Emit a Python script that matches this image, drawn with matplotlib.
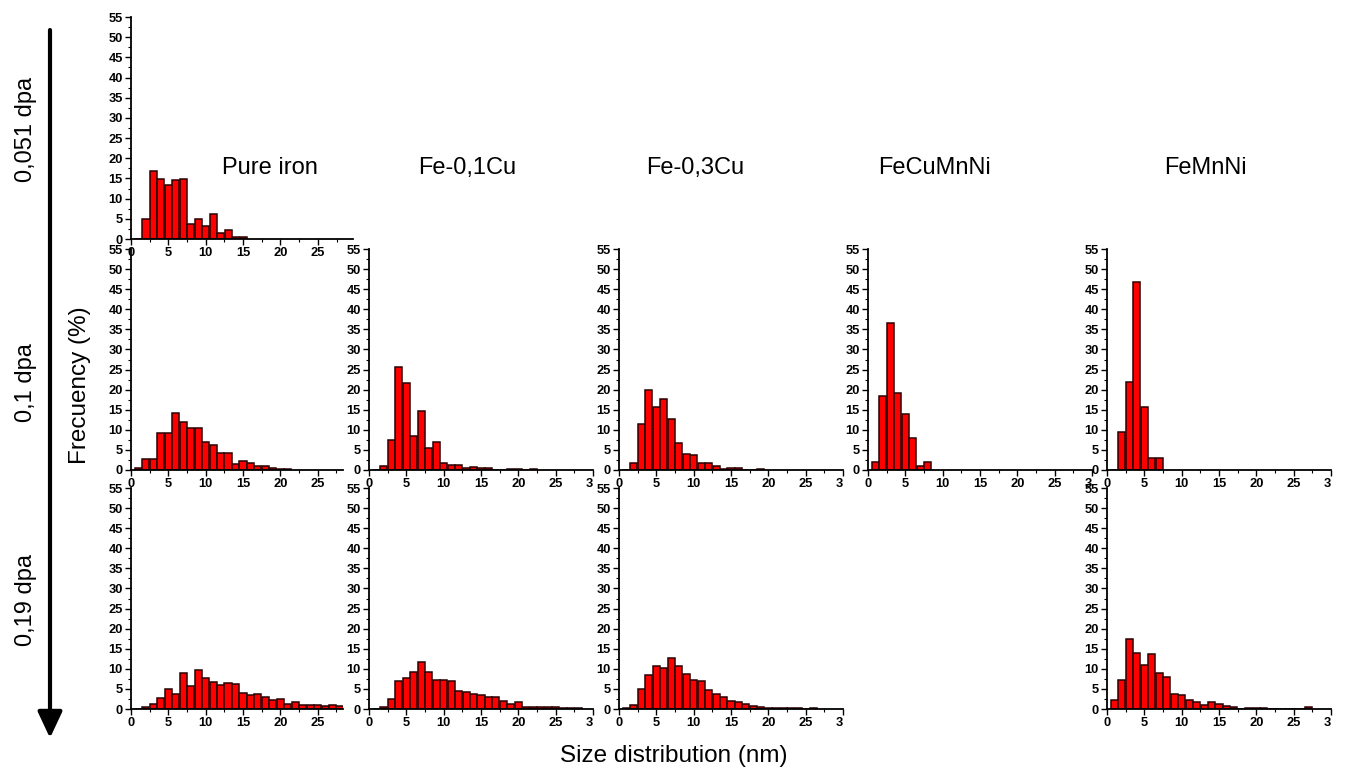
import matplotlib
matplotlib.use("Agg")
import matplotlib.pyplot as plt
import numpy as np

plt.rcParams['font.family'] = ['Liberation Sans', 'DejaVu Sans']

# ---- data (frequency % per 1 nm size bin, bins start at 1 nm) ----
pure_iron_0051 = [0, 5.0, 16.8, 14.9, 13.3, 14.5, 14.9, 3.7, 5.0, 3.3, 6.2, 1.4, 2.3, 0.6, 0.5]
pure_iron_01 = [0.4, 2.7, 2.8, 9.2, 9.2, 14.3, 11.9, 10.4, 10.4, 7.0, 6.1, 4.2, 4.2, 1.5, 2.3,
                1.7, 1.1, 1.0, 0.5, 0.3, 0.2]
fe01cu_01 = [0, 1.1, 7.4, 25.7, 21.7, 8.5, 14.6, 5.4, 6.9, 1.8, 1.2, 1.2, 0.4, 0.8, 0.4, 0.4,
             0, 0, 0.2, 0.2, 0, 0.2]
fe03cu_01 = [0, 1.7, 11.4, 19.8, 15.8, 17.6, 12.6, 6.8, 4.1, 3.8, 1.7, 1.7, 0.9, 0.25, 0.4, 0.4,
             0, 0, 0.25]
fecumnni_01 = [1.9, 18.4, 36.7, 19.2, 13.9, 7.9, 0.9, 1.9]
femnni_01 = [0, 9.4, 21.8, 46.9, 15.7, 3.1, 3.1]
pure_iron_019 = [0, 0.4, 1.2, 2.7, 5.1, 3.8, 8.9, 5.6, 9.8, 7.8, 6.6, 5.9, 6.5, 6.1, 4.0, 3.6,
                 3.7, 3.0, 2.3, 2.6, 1.3, 1.8, 0.9, 0.9, 1.0, 0.7, 1.0, 0.8]
fe01cu_019 = [0, 0.5, 2.6, 7.0, 7.7, 9.3, 11.8, 9.3, 7.3, 7.3, 6.9, 4.4, 4.3, 3.7, 3.5, 3.1,
              3.1, 2.0, 1.2, 1.7, 0.6, 0.6, 0.6, 0.45, 0.45, 0.25, 0.25, 0.2]
fe03cu_019 = [0.15, 1.0, 4.9, 8.4, 10.7, 10.2, 12.7, 10.7, 8.7, 7.3, 7.0, 4.7, 3.7, 3.0, 2.0,
              1.7, 1.3, 0.7, 0.5, 0.3, 0.3, 0.2, 0.2, 0.15, 0, 0.25]
femnni_019 = [2.2, 7.1, 17.3, 13.9, 10.9, 13.8, 8.9, 7.9, 3.8, 3.6, 2.3, 1.7, 1.0, 1.8, 1.2,
              0.7, 0.55, 0, 0.3, 0.3, 0.3, 0, 0, 0, 0, 0, 0.6]

materials = ["Pure iron", "Fe-0,1Cu", "Fe-0,3Cu", "FeCuMnNi", "FeMnNi"]
doses = ["0,051 dpa", "0,1 dpa", "0,19 dpa"]
y_ticks = [0, 5, 10, 15, 20, 25, 30, 35, 40, 45, 50, 55]
x_ticks = [0, 5, 10, 15, 20, 25, 30]
x_tick_labels = ["0", "5", "10", "15", "20", "25", "3"]

# panels: (row, col, data)
panels = [
    (0, 0, pure_iron_0051),
    (1, 0, pure_iron_01), (1, 1, fe01cu_01), (1, 2, fe03cu_01), (1, 3, fecumnni_01), (1, 4, femnni_01),
    (2, 0, pure_iron_019), (2, 1, fe01cu_019), (2, 2, fe03cu_019), (2, 4, femnni_019),
]

W, H = 1345, 767
fig = plt.figure(figsize=(W / 100, H / 100), dpi=100)

row_px = [(17, 239), (249, 470), (488, 709)]
col_px = [(131, 343), (369, 593), (619, 843), (868, 1092), (1107, 1331)]
col_xmax = [28.4, 30, 30, 30, 30]

for (r, c, vals) in panels:
    top, bot = row_px[r]
    left, right = col_px[c]
    xmax = col_xmax[c]
    if r == 0 and c == 0:
        right = 353
        xmax = 29.7
    ax = fig.add_axes([left / W, 1 - bot / H, (right - left) / W, (bot - top) / H])
    x = np.arange(1, len(vals) + 1)
    ax.bar(x, vals, width=0.95, color='#ff0000', edgecolor='#2a0000', linewidth=1.1, zorder=2)
    ax.set_xlim(0, xmax)
    ax.set_ylim(0, 55)
    for s in ['top', 'right']:
        ax.spines[s].set_visible(False)
    for s in ['left', 'bottom']:
        ax.spines[s].set_linewidth(1.3)
    ax.set_yticks(y_ticks)
    ax.set_yticks(np.arange(2.5, 55, 5), minor=True)
    if xmax >= 30:
        ax.set_xticks(x_ticks)
        ax.set_xticklabels(x_tick_labels)
        ax.get_xticklabels()[-1].set_horizontalalignment('right')
    else:
        ax.set_xticks(x_ticks[:-1])
        ax.set_xticklabels(x_tick_labels[:-1])
    ax.set_xticks(np.arange(2.5, xmax, 5), minor=True)
    ax.tick_params(which='major', direction='out', length=4, width=1, labelsize=9.3, pad=1.8)
    ax.tick_params(which='minor', direction='out', length=2, width=0.8)
    for lab in ax.get_xticklabels() + ax.get_yticklabels():
        lab.set_fontweight('bold')
    ax.patch.set_alpha(0)

# material titles
title_x = [270, 467, 695, 935, 1205]
for name, tx in zip(materials, title_x):
    fig.text(tx / W, 1 - 168 / H, name, ha='center', va='center', fontsize=17)

# dose labels
dose_y = [129, 383, 600]
for d, dy in zip(doses, dose_y):
    fig.text(26 / W, 1 - dy / H, d, ha='center', va='center', rotation=90, fontsize=17)

# arrow
ax_arrow = fig.add_axes([0, 0, 1, 1])
ax_arrow.set_xlim(0, W)
ax_arrow.set_ylim(H, 0)
ax_arrow.axis('off')
ax_arrow.annotate('', xy=(50, 738), xytext=(50, 30),
                  arrowprops=dict(arrowstyle='-|>,head_length=1.6,head_width=0.75', lw=3, color='black',
                                  shrinkA=0, shrinkB=0))

fig.text(80 / W, 1 - 385 / H, "Frecuency (%)", ha='center', va='center', rotation=90, fontsize=17.5)
fig.text(674 / W, 1 - 756 / H, "Size distribution (nm)", ha='center', va='center', fontsize=17.5)

fig.savefig("out.png", dpi=100)
